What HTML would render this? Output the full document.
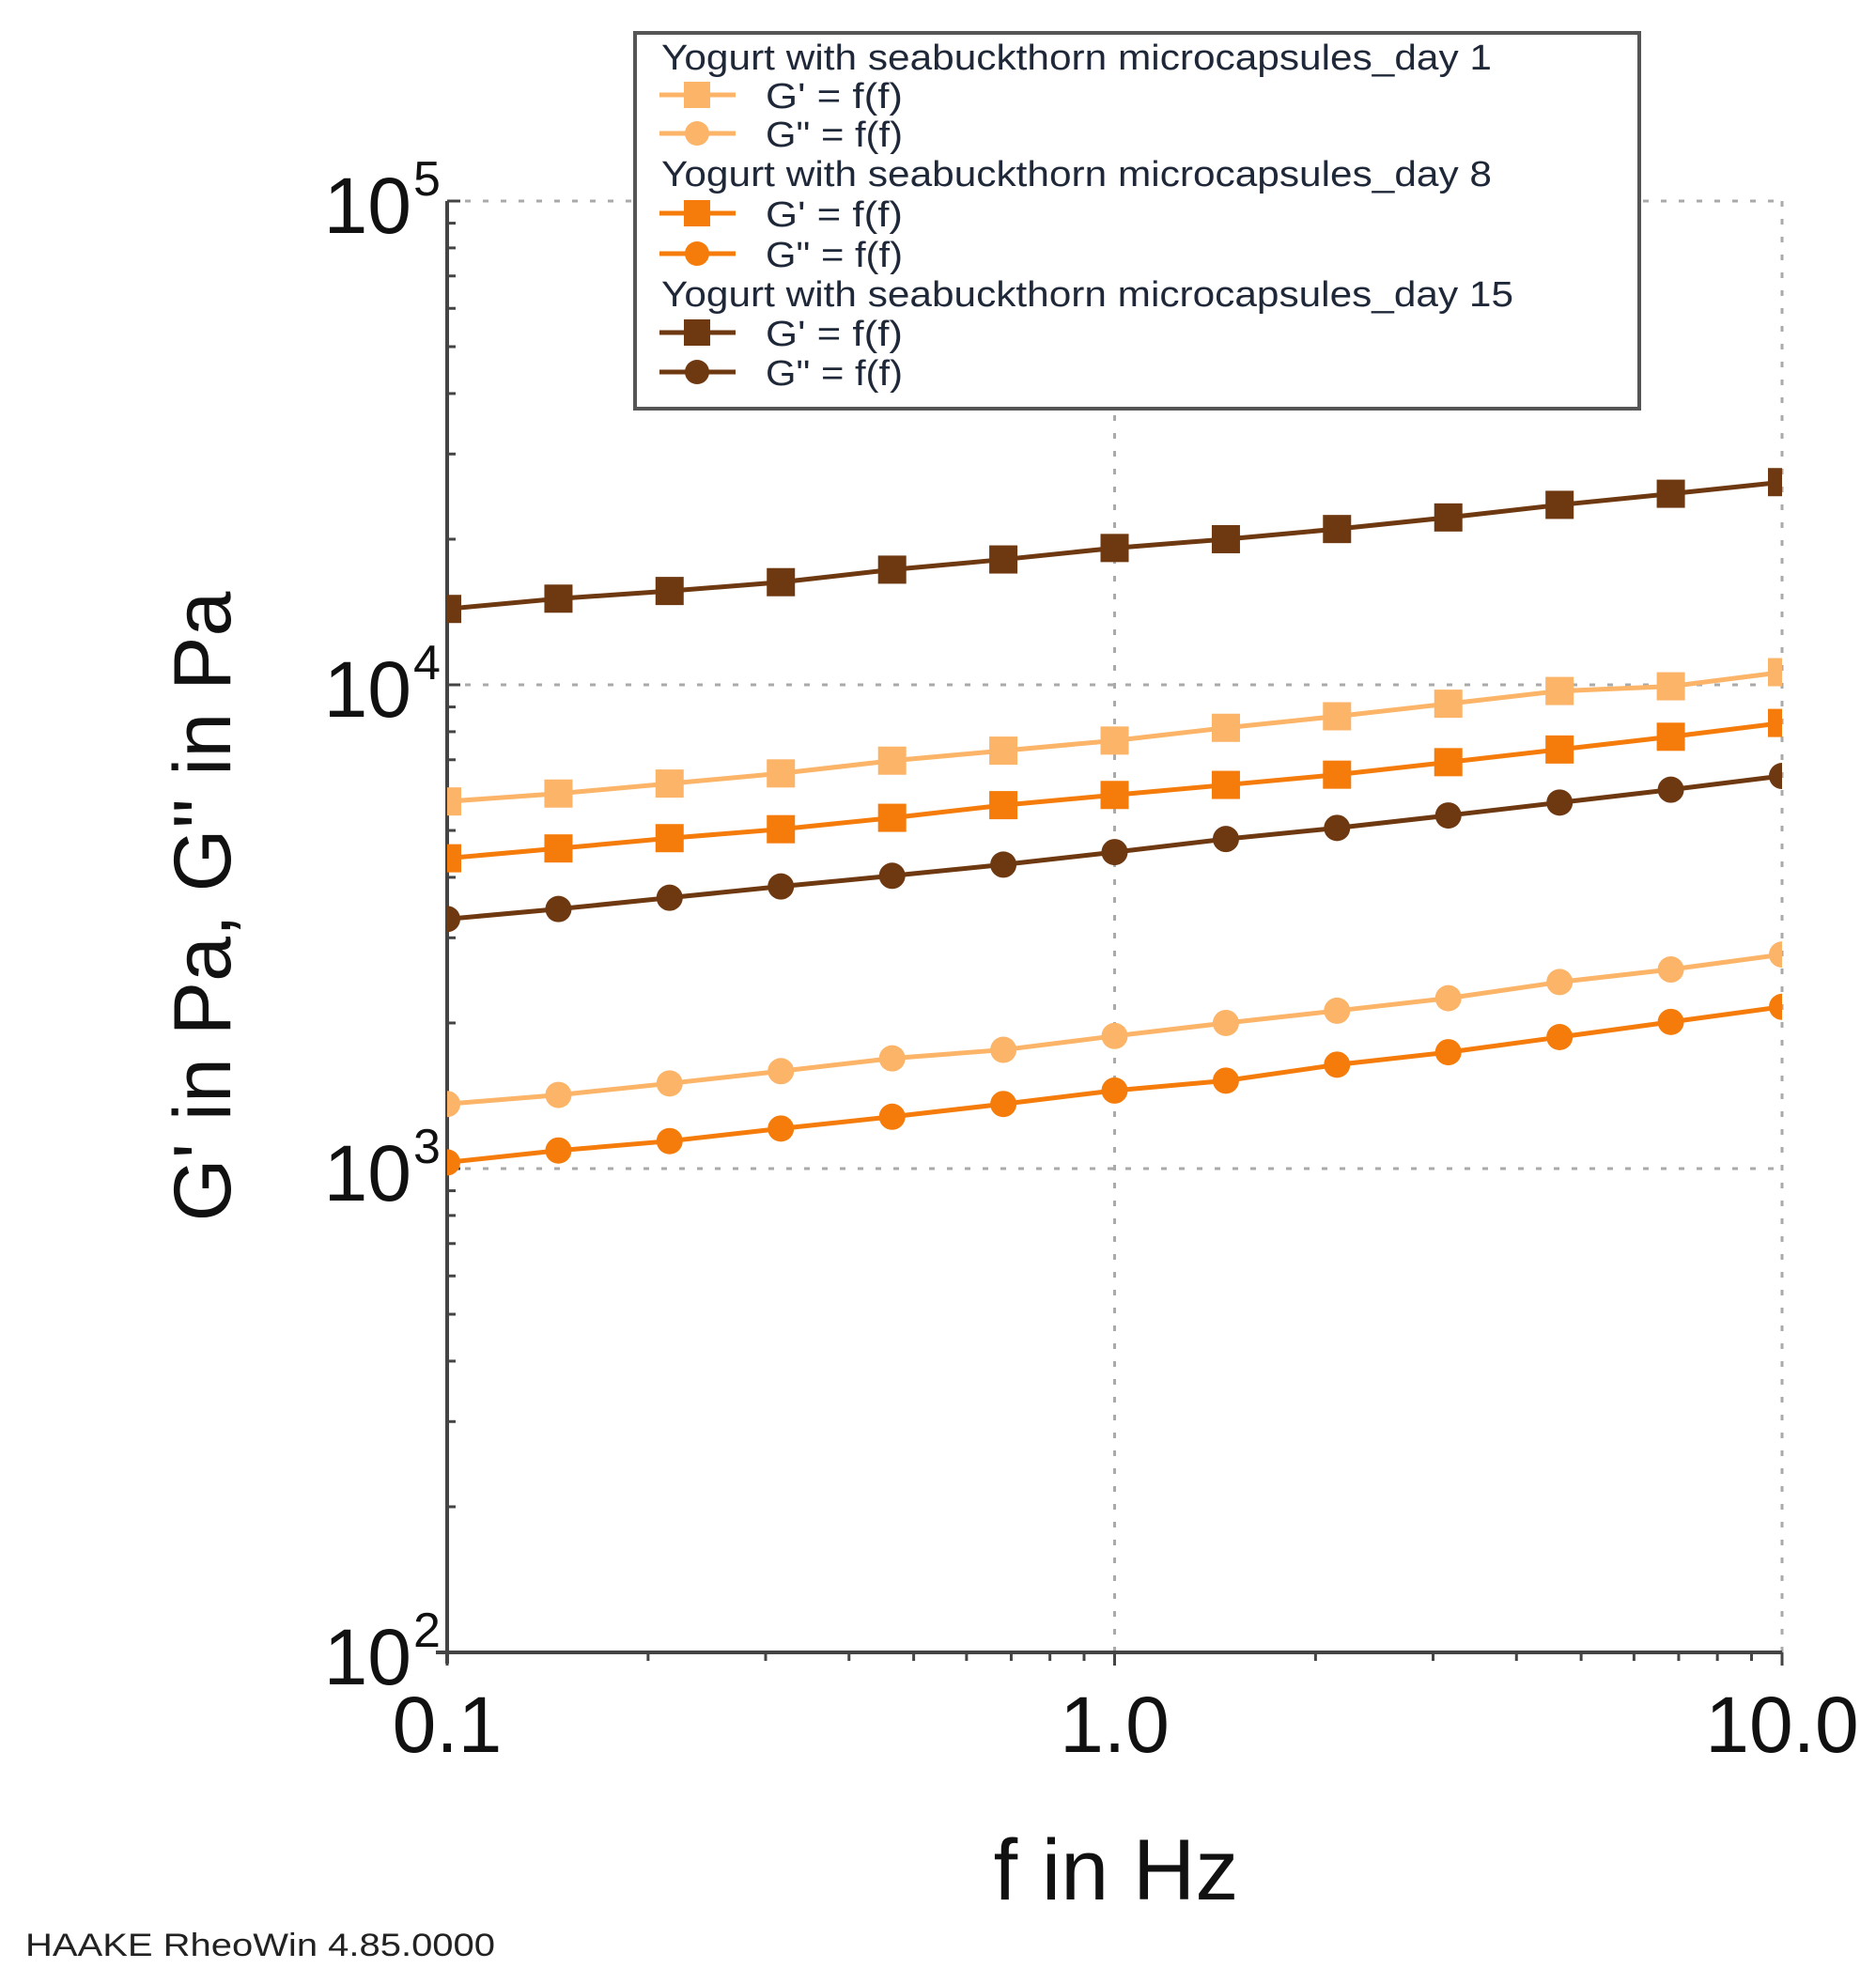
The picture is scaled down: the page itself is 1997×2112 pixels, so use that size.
<!DOCTYPE html>
<html><head><meta charset="utf-8"><style>
html,body{margin:0;padding:0;background:#fff;}
svg{display:block;font-family:"Liberation Sans",sans-serif;}
</style></head><body>
<svg id="chart" width="1997" height="2112" viewBox="0 0 1997 2112" xmlns="http://www.w3.org/2000/svg">
<defs><clipPath id="plotclip"><rect x="476" y="214" width="1421" height="1545"/></clipPath></defs>
<g id="grid"></g>
<g id="axes"></g>
<g id="series" clip-path="url(#plotclip)"></g>
<g id="legend"></g>
<text x="0" y="0" transform="translate(245,965) rotate(-90)" text-anchor="middle" font-size="86" fill="#111">G' in Pa, G'' in Pa</text>
<text x="1188" y="2022" text-anchor="middle" font-size="92" fill="#111">f in Hz</text>
<text x="27" y="2082" font-size="34" fill="#222" textLength="500" lengthAdjust="spacingAndGlyphs">HAAKE RheoWin 4.85.0000</text>
</svg>
<script>
const freqs=[0.1,0.1468,0.2154,0.3162,0.4642,0.6813,1.0,1.468,2.154,3.162,4.642,6.813,10.0];
const d1Gp=[5740,5960,6250,6560,6970,7310,7670,8150,8610,9140,9710,9930,10620];
const d1Gpp=[1360,1420,1500,1590,1690,1760,1880,2000,2120,2250,2430,2580,2770];
const d8Gp=[4380,4590,4820,5030,5310,5640,5920,6210,6520,6920,7350,7810,8340];
const d8Gpp=[1030,1090,1140,1210,1280,1360,1450,1520,1640,1740,1870,2010,2160];
const d15Gp=[14350,15070,15630,16300,17300,18160,19180,20000,20990,22180,23550,24830,26240];
const d15Gpp=[3280,3440,3630,3830,4030,4250,4510,4800,5060,5370,5710,6070,6480];
const xTicks=[0.1,1,10];
const xTickLabels=["0.1","1.0","10.0"];
const yTicks=[100,1000,10000,100000];
const yTickExps=["2","3","4","5"];
const legendGroups=["Yogurt with seabuckthorn microcapsules_day 1","Yogurt with seabuckthorn microcapsules_day 8","Yogurt with seabuckthorn microcapsules_day 15"];

const NS="http://www.w3.org/2000/svg";
const X0=476,X1=1897,Y0=1759,Y1=214;
function xs(v){return X0+(Math.log10(v)+1)/2*(X1-X0);}
function ys(v){return Y0-(Math.log10(v)-2)/3*(Y0-Y1);}
function mk(tag,attrs,parent){const e=document.createElementNS(NS,tag);for(const k in attrs)e.setAttribute(k,attrs[k]);parent.appendChild(e);return e;}
const grid=document.getElementById('grid'),axes=document.getElementById('axes'),series=document.getElementById('series'),legend=document.getElementById('legend');

yTicks.slice(1).forEach(v=>{const l=mk('line',{x1:X0,x2:X1,y1:ys(v),y2:ys(v),stroke:'#aaa','stroke-width':3,'stroke-dasharray':'6 13'},grid);

});
xTicks.slice(1).forEach(v=>{const l=mk('line',{x1:xs(v),x2:xs(v),y1:Y1,y2:Y0,stroke:'#aaa','stroke-width':3,'stroke-dasharray':'6 13'},grid);

});

const ya=mk('line',{x1:X0,x2:X0,y1:Y1,y2:Y0+12,stroke:'#444','stroke-width':4},axes);


const xa=mk('line',{x1:X0-12,x2:X1,y1:Y0,y2:Y0,stroke:'#444','stroke-width':4},axes);


for(let dec=-1;dec<1;dec++)for(let m=1;m<=10;m++){const v=m*Math.pow(10,dec);const big=m===1||m===10;
 const t=mk('line',{x1:xs(v),x2:xs(v),y1:Y0,y2:Y0+(big?14:9),stroke:'#444','stroke-width':3},axes);
 
 }
for(let dec=2;dec<5;dec++)for(let m=1;m<=10;m++){const v=m*Math.pow(10,dec);
 const t=mk('line',{x1:X0,x2:X0+(m===1||m===10?14:9),y1:ys(v),y2:ys(v),stroke:'#444','stroke-width':3},axes);
 
 }
xTicks.forEach((v,i)=>{const t=mk('text',{x:xs(v),y:Y0+106,'text-anchor':'middle','font-size':84,fill:'#111'},axes);t.textContent=xTickLabels[i];
 
 });
yTicks.forEach((v,i)=>{const t=mk('text',{x:X0-38,y:ys(v)+34,'text-anchor':'end','font-size':84,fill:'#111'},axes);t.textContent='10';
 
 
 const s=mk('text',{x:X0-36,y:ys(v)-6,'font-size':52,fill:'#111'},axes);s.textContent=yTickExps[i];
 
 });

const LIGHT='#fbb468',MID='#f57c0a',DARK='#6e3810';
const all=[[d1Gp,LIGHT,'sq','day1-storage-modulus'],[d1Gpp,LIGHT,'ci','day1-loss-modulus'],[d8Gp,MID,'sq','day8-storage-modulus'],[d8Gpp,MID,'ci','day8-loss-modulus'],[d15Gp,DARK,'sq','day15-storage-modulus'],[d15Gpp,DARK,'ci','day15-loss-modulus']];
function marker(parent,shape,cx,cy,col,sz){let e;
 if(shape==='sq')e=mk('rect',{x:cx-sz/2,y:cy-sz/2,width:sz,height:sz,fill:col},parent);
 else e=mk('circle',{cx:cx,cy:cy,r:sz/2,fill:col},parent);return e;}
all.forEach(([vals,col,shape,name])=>{
 const g=mk('g',{},series);
 
 
 const pts=vals.map((v,i)=>xs(freqs[i])+','+ys(v)).join(' ');
 const pl=mk('polyline',{points:pts,fill:'none',stroke:col,'stroke-width':5},g);
 
 
 vals.forEach((v,i)=>{const m=marker(g,shape,xs(freqs[i]),ys(v),col,shape==='sq'?30:28);
  
  });
});

const box=mk('rect',{x:676,y:35,width:1069,height:400,fill:'#fff',stroke:'#555','stroke-width':4},legend);


const rowY=[61,101,142,185,227,270,313,354,396];
const titleW=[884,884,907];
let r=0;
for(let gi=0;gi<3;gi++){
 const h=mk('text',{x:704,y:rowY[r]+13,'font-size':38,fill:'#1f2838',textLength:titleW[gi],lengthAdjust:'spacingAndGlyphs'},legend);h.textContent=legendGroups[gi];
 
 r++;
 for(let k=0;k<2;k++){const [vals,col,shape]=all[gi*2+k];const y=rowY[r];
  const ln=mk('line',{x1:702,x2:783,y1:y,y2:y,stroke:col,'stroke-width':5},legend);
  
  
  marker(legend,shape,742,y,col,shape==='sq'?28:26);
  const t=mk('text',{x:815,y:y+14,'font-size':38,fill:'#1f2838',textLength:146,lengthAdjust:'spacingAndGlyphs'},legend);t.textContent=k===0?"G' = f(f)":'G" = f(f)';
  
  r++;}
}
</script>
</body></html>
